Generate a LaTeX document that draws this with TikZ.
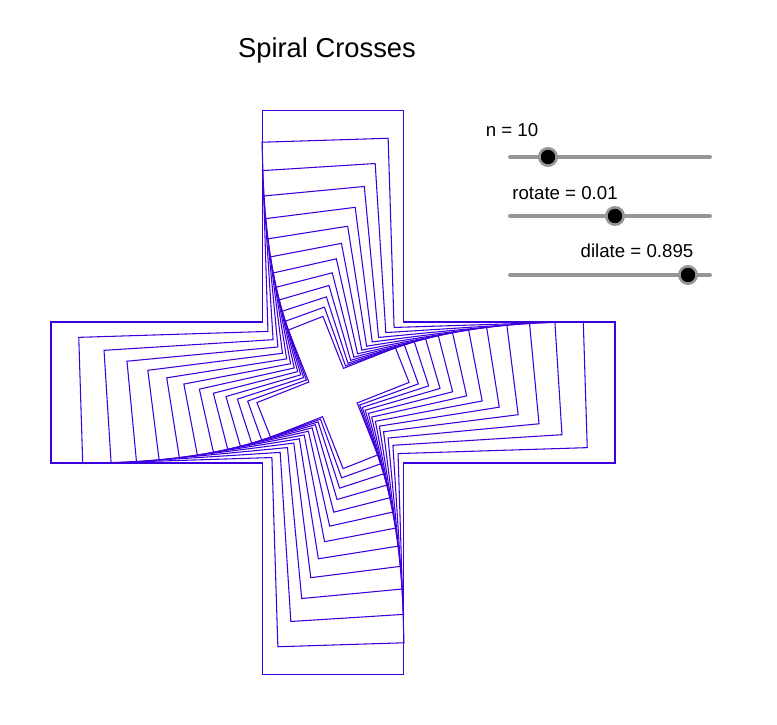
\documentclass[tikz,border=0pt]{standalone}
\usepackage{fontspec}
\setmainfont{Liberation Sans}
\definecolor{crossblue}{RGB}{60,0,220}
\definecolor{slidergray}{RGB}{150,150,150}
\tikzset{
  crossline/.style={draw=crossblue, line width=0.8pt},
  sliderbar/.style={draw=slidergray, line width=3pt, line cap=round},
  knob/.style={circle, fill=black, draw=slidergray, line width=2pt, minimum size=13pt, inner sep=0pt},
  label/.style={font=\fontsize{14}{16}\selectfont}
}
\begin{document}
\begin{tikzpicture}[x=0.75pt, y=-0.75pt]
  \useasboundingbox (0,0) rectangle (777,724);
  % spiral of crosses
  \foreach \k in {0,...,12}{
    \pgfmathsetmacro{\s}{0.895^\k}
    \pgfmathsetmacro{\r}{1.8*\k}
    \draw[crossline, shift={(333,392.5)}, rotate=\r, scale=\s]
      (-70.5,-282) -- (70.5,-282) -- (70.5,-70.5) -- (282,-70.5) -- (282,70.5)
      -- (70.5,70.5) -- (70.5,282) -- (-70.5,282) -- (-70.5,70.5) -- (-282,70.5)
      -- (-282,-70.5) -- (-70.5,-70.5) -- cycle;
  }
  % title
  \node[font=\fontsize{20.5}{23}\selectfont] (title) at (327,50) {Spiral Crosses};
  % sliders
  \node[label] (nlabel) at (512,130) {n = 10};
  \coordinate (n0) at (510,157);
  \coordinate (n1) at (710,157);
  \draw[sliderbar] (n0) -- (n1);
  \node[knob] (nknob) at (548,157) {};
  \node[label] (rlabel) at (565,193) {rotate = 0.01};
  \coordinate (r0) at (510,216);
  \coordinate (r1) at (710,216);
  \draw[sliderbar] (r0) -- (r1);
  \node[knob] (rknob) at (615,216) {};
  \node[label] (dlabel) at (637,251) {dilate = 0.895};
  \coordinate (d0) at (510,275);
  \coordinate (d1) at (710,275);
  \draw[sliderbar] (d0) -- (d1);
  \node[knob] (dknob) at (688,275) {};
\end{tikzpicture}
\end{document}
